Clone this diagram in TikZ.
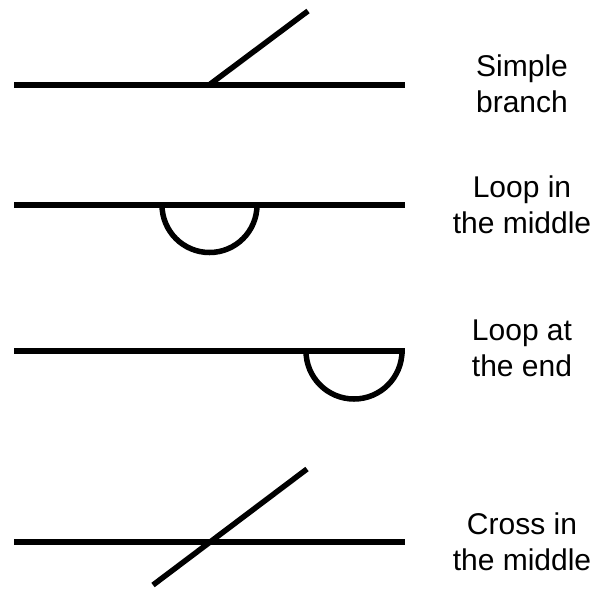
\documentclass[tikz,border=0pt]{standalone}
\usepackage{fontspec}
\setmainfont{Liberation Sans}
\usetikzlibrary{positioning}
\tikzset{
  wire/.style={line width=5.5pt},
  caption/.style={font=\fontsize{30}{36}\selectfont, align=center, inner sep=0pt, anchor=base}
}

\begin{document}
\begin{tikzpicture}[x=1pt,y=-1pt]
  \useasboundingbox (0,0) rectangle (609,590);
  % simple branch
  \draw[wire] (14,85) -- (405,85);
  \draw[wire] (209,85) -- (308,11);
  \node[caption] (branch) at (522,112) {Simple\\branch};
  % loop in the middle
  \draw[wire] (14,205) -- (405,205);
  \draw[wire] (162,205) arc[start angle=180,end angle=0,radius=47.5];
  \node[caption] (midloop) at (522,233) {Loop in\\the middle};
  % loop at the end
  \draw[wire] (14,351) -- (405,351);
  \draw[wire] (306,351) arc[start angle=180,end angle=0,radius=48];
  \node[caption] (endloop) at (522,376) {Loop at\\the end};
  % cross in the middle
  \draw[wire] (14,542) -- (405,542);
  \draw[wire] (153,585) -- (307,469);
  \node[caption] (cross) at (522,570) {Cross in\\the middle};
\end{tikzpicture}
\end{document}
